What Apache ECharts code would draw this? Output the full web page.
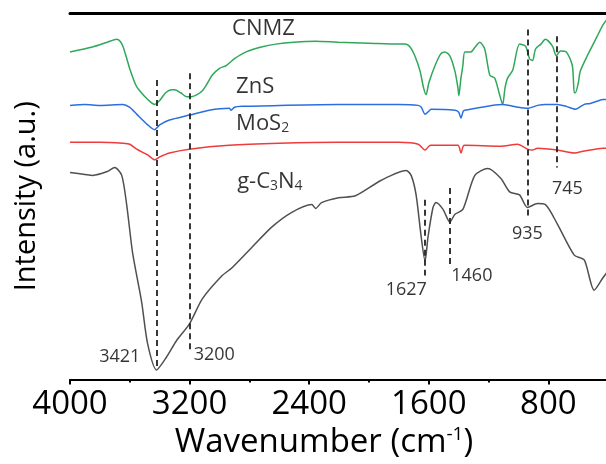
<!DOCTYPE html>
<html>
<head>
<meta charset="utf-8">
<script src="https://cdn.jsdelivr.net/npm/echarts@6/dist/echarts.min.js"></script>
<style>
  html, body { margin: 0; padding: 0; background: #fff; overflow: hidden; }
  /* plot runs on past the right edge of the window, as in the cropped original */
  #chart { width: 671px; height: 464px; }
</style>
</head>
<body>
<div id="chart"></div>
<script>
// FTIR spectra, [wavenumber (cm-1), intensity (a.u., offset)]
const cnmz = [
  [4000, 337], [3850, 342], [3750, 347], [3687, 350], [3665, 348], [3647, 343], [3620, 330],
  [3601, 320], [3560, 303], [3534, 297], [3480, 288], [3434, 283], [3400, 287], [3360, 295],
  [3320, 298], [3301, 298], [3260, 295], [3220, 291], [3188, 291], [3150, 293], [3115, 297],
  [3080, 305], [3049, 313], [3000, 320], [2955, 323], [2900, 330], [2822, 337], [2720, 342],
  [2623, 345], [2500, 347], [2357, 348], [2204, 347], [2000, 346], [1800, 345], [1758, 345],
  [1725, 342], [1691, 332], [1658, 317], [1635, 300], [1618, 293], [1600, 305], [1558, 323],
  [1520, 335], [1492, 337], [1459, 333], [1425, 317], [1405, 300], [1399, 292], [1385, 310],
  [1372, 323], [1359, 337], [1319, 337], [1290, 342], [1259, 347], [1226, 340], [1192, 313],
  [1159, 310], [1130, 295], [1106, 283], [1090, 300], [1073, 310], [1039, 318], [993, 345],
  [953, 343], [926, 330], [906, 328], [886, 340], [850, 345], [820, 350], [773, 343],
  [747, 333], [720, 338], [680, 337], [640, 323], [627, 295], [620, 295], [600, 305],
  [587, 317], [540, 333], [474, 353], [434, 365], [400, 372]
];
const zns = [
  [4000, 282], [3900, 283], [3800, 282], [3647, 283], [3600, 280], [3554, 273], [3480, 262],
  [3434, 257], [3400, 262], [3335, 267], [3202, 272], [3069, 277], [2935, 279], [2922, 277],
  [2900, 280], [2849, 281], [2600, 282], [2204, 283], [1800, 283], [1671, 282], [1650, 280],
  [1625, 273], [1600, 276], [1585, 278], [1425, 277], [1400, 275], [1385, 269], [1370, 276],
  [1359, 277], [1106, 283], [1000, 280], [940, 279], [873, 282], [820, 283], [740, 283],
  [680, 281], [620, 278], [560, 283], [520, 284], [480, 286], [434, 288], [400, 288]
];
const mos2 = [
  [4000, 244], [3800, 244], [3647, 243], [3600, 242], [3554, 237], [3480, 231], [3434, 226],
  [3400, 229], [3335, 233], [3202, 237], [2935, 241], [2600, 243], [2204, 244], [1800, 244],
  [1671, 242], [1625, 236], [1600, 240], [1585, 241], [1405, 241], [1385, 233], [1370, 240],
  [1359, 241], [1119, 240], [1006, 242], [940, 237], [906, 236], [873, 238], [740, 236],
  [627, 233], [560, 235], [434, 238], [400, 238]
];
const gc3n4 = [
  [4000, 213], [3900, 211], [3847, 210], [3750, 214], [3701, 218], [3654, 210], [3621, 180],
  [3581, 130], [3521, 80], [3481, 37], [3421, 10], [3355, 23], [3288, 40], [3202, 57],
  [3115, 83], [2982, 107], [2916, 115], [2802, 133], [2649, 157], [2516, 172], [2383, 180],
  [2357, 176], [2317, 182], [2204, 187], [2091, 189], [1918, 205], [1751, 215], [1718, 210],
  [1685, 190], [1651, 147], [1625, 122], [1605, 147], [1572, 177], [1552, 182], [1505, 175],
  [1459, 162], [1425, 170], [1372, 175], [1292, 210], [1206, 217], [1119, 207], [1059, 193],
  [993, 190], [940, 177], [873, 181], [820, 180], [740, 160], [627, 128], [560, 123],
  [494, 92], [434, 105], [400, 112]
];

const xTicks = [4000, 3200, 2400, 1600, 800];

// dashed guide lines: [wavenumber, from, to]
const guides = [
  [3421, 308, 10], [3200, 315, 30], [1627, 185, 107],
  [1460, 197, 117], [935, 360, 168], [745, 353, 218]
];
// peak labels: [wavenumber, intensity, text]
const peakLabels = [
  [3667, 23, '3421'], [3035, 25, '3200'], [1751, 92, '1627'],
  [1312, 107, '1460'], [940, 150, '935'], [673, 196, '745']
];
// sample names: [wavenumber, intensity, text]
const names = [
  [2916, 361, 'CNMZ'], [2889, 301, 'ZnS'], [2889, 263, 'MoS{s|2}'], [2882, 203, 'g-C{s|3}N{s|4}']
];

const FONT = 'Open Sans';
const chart = echarts.init(document.getElementById('chart'));

function spectrum(data, color) {
  return {
    type: 'line', data: data, showSymbol: false, symbol: 'none', smooth: 0.25,
    lineStyle: { color: color, width: 1.5 }, silent: true
  };
}

const option = {
  animation: false,
  grid: { left: 70, right: 0, top: 13, bottom: 74 },
  xAxis: [{
    type: 'value', inverse: true, min: 0, max: 4000, interval: 800,
    axisLine: { lineStyle: { color: '#000', width: 2 } },
    axisTick: { show: true, length: 5, lineStyle: { color: '#000', width: 2 } },
    minorTick: { show: true, splitNumber: 2, length: 3, lineStyle: { color: '#000', width: 2 } },
    splitLine: { show: false },
    axisLabel: {
      margin: 8, color: '#000', fontFamily: FONT, fontSize: 33,
      formatter: v => xTicks.includes(v) ? String(v) : ''
    },
    name: 'Wavenumber (cm{sup|-1})',
    nameLocation: 'middle', nameGap: 41,
    nameTextStyle: { color: '#000', fontFamily: FONT, fontSize: 33, padding: [0, 90, 0, 0],
      rich: { sup: { fontSize: 19, verticalAlign: 'top', padding: [0, 0, 15, 0], fontFamily: FONT, color: '#000' } } }
  }, {
    type: 'value', position: 'top', inverse: true, min: 0, max: 4000,
    axisLine: { show: true, lineStyle: { color: '#000', width: 3 } },
    axisTick: { show: false }, axisLabel: { show: false }, splitLine: { show: false }
  }],
  yAxis: {
    type: 'value', min: 0, max: 377,
    axisLine: { show: true, lineStyle: { color: '#000', width: 2.5 } },
    axisTick: { show: false }, axisLabel: { show: false }, splitLine: { show: false },
    name: 'Intensity (a.u.)', nameLocation: 'middle', nameGap: 29,
    nameTextStyle: { color: '#000', fontFamily: FONT, fontSize: 29 }
  },
  series: [
    spectrum(cnmz, '#2fa85a'),
    spectrum(zns, '#2a6fe0'),
    spectrum(mos2, '#ee3b3b'),
    Object.assign(spectrum(gc3n4, '#505050'), {
      markLine: {
        silent: true, symbol: 'none', animation: false,
        label: { show: false },
        lineStyle: { color: '#222', type: [6, 4], width: 1.8 },
        data: guides.map(g => [{ coord: [g[0], g[1]] }, { coord: [g[0], g[2]] }])
      }
    }),
    {
      type: 'scatter', symbolSize: 0, silent: true,
      data: peakLabels,
      label: { show: true, position: 'inside', formatter: p => p.data[2],
        color: '#000', fontFamily: FONT, fontSize: 18 }
    },
    {
      type: 'scatter', symbolSize: 0, silent: true,
      data: names,
      label: { show: true, position: 'right', distance: 0, formatter: p => p.data[2],
        color: '#000', fontFamily: FONT, fontSize: 22,
        rich: { s: { fontSize: 14, verticalAlign: 'bottom', padding: [8, 0, 0, 0], fontFamily: FONT, color: '#000' } } }
    }
  ]
};
chart.setOption(option);
</script>
</body>
</html>
